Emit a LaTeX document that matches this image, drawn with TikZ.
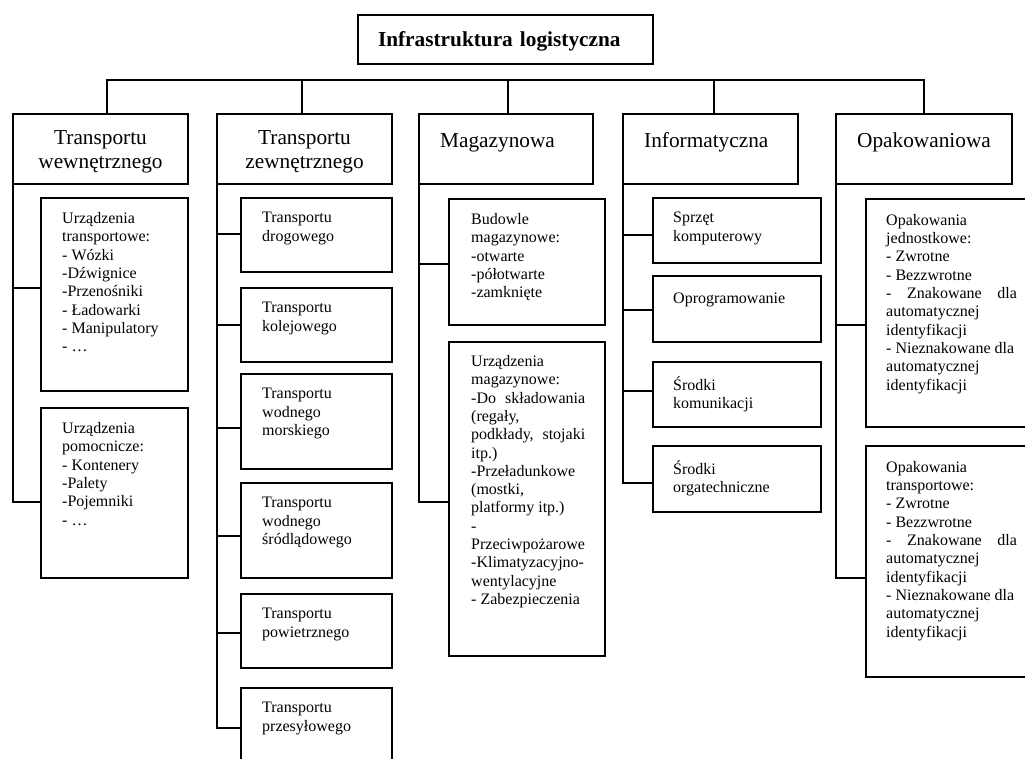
\documentclass[tikz,border=0pt]{standalone}
\usepackage{fontspec}
\setmainfont{Liberation Serif}
\usetikzlibrary{positioning}

\newcommand{\bodyfont}{\fontsize{16}{18.3}\selectfont}
\newcommand{\headfont}{\fontsize{21.3}{23.5}\selectfont}

\tikzset{
  box/.style={draw, line width=1.8pt, anchor=north west, inner sep=0pt, outer sep=0pt},
  txt/.style={inner sep=0pt, align=left, font=\bodyfont, execute at begin node=\strut},
  head/.style={inner sep=0pt, font=\headfont, execute at begin node=\strut},
  link/.style={line width=1.8pt}
}

\begin{document}
\begin{tikzpicture}[x=1pt, y=-1pt]
    \clip (0,0) rectangle (1025,758);

    % Root
    \node[box, minimum width=295pt, minimum height=49pt, text width=255pt, inner xsep=20pt, align=left,
          text height=17pt, text depth=3pt, font=\headfont\bfseries] (infra) at (358,15) {Infrastruktura logistyczna};

    % Categories
    \node[box, minimum width=175pt, minimum height=70pt] (trw) at (13,114) {};
    \node[box, minimum width=175pt, minimum height=70pt] (trz) at (217,114) {};
    \node[box, minimum width=174pt, minimum height=70pt] (mag) at (419,114) {};
    \node[box, minimum width=175pt, minimum height=70pt] (inf) at (623,114) {};
    \node[box, minimum width=176pt, minimum height=70pt] (opk) at (836,114) {};
    \node[head, align=center, below=16.5pt of trw.north] (trw-t) {Transportu\\wewnętrznego};
    \node[head, align=center, below=16.5pt of trz.north] (trz-t) {Transportu\\zewnętrznego};
    \node[head, below right=16.5pt and 21pt of mag.north west] (mag-t) {Magazynowa};
    \node[head, below right=16.5pt and 21pt of inf.north west] (inf-t) {Informatyczna};
    \node[head, below right=16.5pt and 21pt of opk.north west] (opk-t) {Opakowaniowa};

    % Transport wewnetrzny
    \node[box, minimum width=147pt, minimum height=193pt] (ut) at (41,198) {};
    \node[txt, below right=14.2pt and 21pt of ut.north west] (ut-t) {Urządzenia\\transportowe:\\- Wózki\\-Dźwignice\\-Przenośniki\\- Ładowarki\\- Manipulatory\\- …};
    \node[box, minimum width=147pt, minimum height=170pt] (up) at (41,408) {};
    \node[txt, below right=14.2pt and 21pt of up.north west] (up-t) {Urządzenia\\pomocnicze:\\- Kontenery\\-Palety\\-Pojemniki\\- …};

    % Transport zewnetrzny
    \node[box, minimum width=151pt, minimum height=74pt] (tdr) at (241,198) {};
    \node[txt, below right=14.2pt and 21pt of tdr.north west] (tdr-t) {Transportu\\drogowego};
    \node[box, minimum width=151pt, minimum height=74pt] (tkol) at (241,288) {};
    \node[txt, below right=14.2pt and 21pt of tkol.north west] (tkol-t) {Transportu\\kolejowego};
    \node[box, minimum width=151pt, minimum height=95pt] (tmor) at (241,374) {};
    \node[txt, below right=14.2pt and 21pt of tmor.north west] (tmor-t) {Transportu\\wodnego\\morskiego};
    \node[box, minimum width=151pt, minimum height=95pt] (tsrd) at (241,483) {};
    \node[txt, below right=14.2pt and 21pt of tsrd.north west] (tsrd-t) {Transportu\\wodnego\\śródlądowego};
    \node[box, minimum width=151pt, minimum height=74pt] (tpow) at (241,594) {};
    \node[txt, below right=14.2pt and 21pt of tpow.north west] (tpow-t) {Transportu\\powietrznego};
    \node[box, minimum width=151pt, minimum height=80pt] (tprz) at (241,688) {};
    \node[txt, below right=14.2pt and 21pt of tprz.north west] (tprz-t) {Transportu\\przesyłowego};

    % Magazynowa
    \node[box, minimum width=156pt, minimum height=126pt] (bud) at (449,199) {};
    \node[txt, below right=14.2pt and 22pt of bud.north west] (bud-t) {Budowle\\magazynowe:\\-otwarte\\-półotwarte\\-zamknięte};
    \node[box, minimum width=156pt, minimum height=314pt] (urm) at (449,342) {};
    \node[txt, below right=13.2pt and 22pt of urm.north west] (urm-t) {Urządzenia\\magazynowe:\\\makebox[114pt][s]{-Do składowania}\\(regały,\\\makebox[114pt][s]{podkłady, stojaki}\\itp.)\\-Przeładunkowe\\(mostki,\\platformy itp.)\\-\\Przeciwpożarowe\\-Klimatyzacyjno-\\wentylacyjne\\- Zabezpieczenia};

    % Informatyczna
    \node[box, minimum width=168pt, minimum height=65pt] (sprz) at (653,198) {};
    \node[txt, below right=14.2pt and 20pt of sprz.north west] (sprz-t) {Sprzęt\\komputerowy};
    \node[box, minimum width=168pt, minimum height=66pt] (oprog) at (653,276) {};
    \node[txt, below right=14.2pt and 20pt of oprog.north west] (oprog-t) {Oprogramowanie};
    \node[box, minimum width=168pt, minimum height=65pt] (skom) at (653,362) {};
    \node[txt, below right=14.2pt and 20pt of skom.north west] (skom-t) {Środki\\komunikacji};
    \node[box, minimum width=168pt, minimum height=66pt] (sorg) at (653,446) {};
    \node[txt, below right=14.2pt and 20pt of sorg.north west] (sorg-t) {Środki\\orgatechniczne};

    % Opakowaniowa
    \node[box, minimum width=180pt, minimum height=228pt] (opj) at (866,199) {};
    \node[txt, below right=15pt and 20pt of opj.north west] (opj-t) {Opakowania\\jednostkowe:\\- Zwrotne\\- Bezzwrotne\\\makebox[130.8pt][s]{- Znakowane dla}\\automatycznej\\identyfikacji\\- Nieznakowane dla\\automatycznej\\identyfikacji};
    \node[box, minimum width=180pt, minimum height=231pt] (opt) at (866,446) {};
    \node[txt, below right=15pt and 20pt of opt.north west] (opt-t) {Opakowania\\transportowe:\\- Zwrotne\\- Bezzwrotne\\\makebox[130.8pt][s]{- Znakowane dla}\\automatycznej\\identyfikacji\\- Nieznakowane dla\\automatycznej\\identyfikacji};

    % Connectors
    \coordinate (bus) at (505.5,80);
    \draw[link] ([xshift=6.5pt]trw.north) |- (bus) -| (opk.north);
    \draw[link] ([xshift=-2.5pt]trz.north) -- ([xshift=-2.5pt]trz.north |- bus);
    \draw[link] ([xshift=2pt]mag.north) -- ([xshift=2pt]mag.north |- bus);
    \draw[link] ([xshift=3.5pt]inf.north) -- ([xshift=3.5pt]inf.north |- bus);
    \foreach \b/\s in {ut/6.5, up/-9}
        \draw[link] ([yshift=\s pt]\b.west) -| (trw.south west);
    \foreach \b/\s in {tdr/1, tkol/0, tmor/-6.5, tsrd/-5.5, tpow/-2, tprz/0}
        \draw[link] ([yshift=\s pt]\b.west) -| (trz.south west);
    \foreach \b/\s in {bud/-2, urm/-3}
        \draw[link] ([yshift=\s pt]\b.west) -| (mag.south west);
    \foreach \b/\s in {sprz/-4.5, oprog/-1, skom/3.5, sorg/-4}
        \draw[link] ([yshift=\s pt]\b.west) -| (inf.south west);
    \foreach \b/\s in {opj/-12, opt/-16.5}
        \draw[link] ([yshift=\s pt]\b.west) -| (opk.south west);
\end{tikzpicture}
\end{document}
